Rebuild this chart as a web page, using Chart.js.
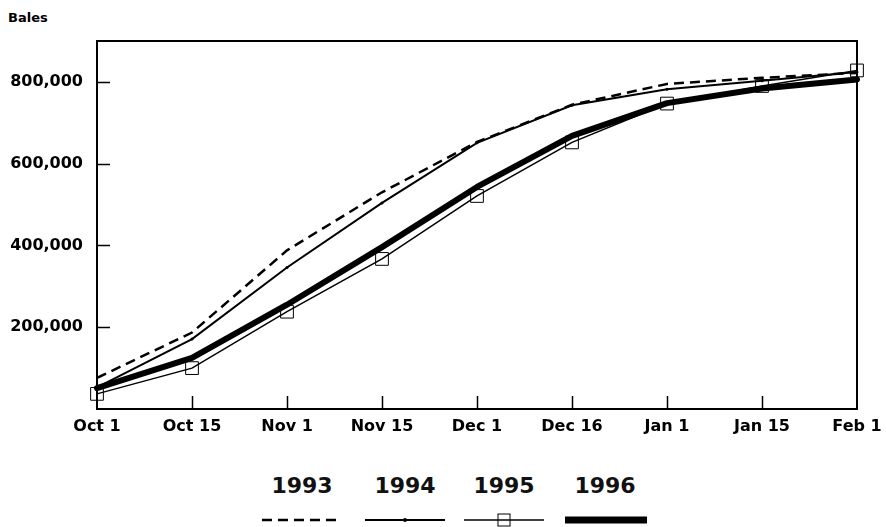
<!DOCTYPE html>
<html>
<head>
<meta charset="utf-8">
<script src="https://cdn.jsdelivr.net/npm/chart.js@4.4.1/dist/chart.umd.min.js"></script>
<style>
  html, body { margin: 0; padding: 0; background: #fff; }
  body { width: 886px; height: 527px; overflow: hidden; position: relative; font-family: "DejaVu Sans", sans-serif; }
  #unit { position: absolute; left: 8px; top: 10px; font-weight: bold; font-size: 13px; color: #000; }
  #wrap { position: absolute; left: 0; top: 0; width: 886px; height: 445px; }
  #legend { position: absolute; left: 0; top: 472px; width: 886px; }
  .item { position: absolute; top: 0; width: 90px; text-align: center; }
  .item span { display: block; font-weight: bold; font-size: 22px; line-height: 28px; color: #111; }
  .item svg { display: block; margin-top: 12px; }
</style>
</head>
<body>
<div id="unit">Bales</div>
<div id="wrap"><canvas id="chart"></canvas></div>
<div id="legend"></div>
<script>
// ---- data ----
const dates = ['Oct 1', 'Oct 15', 'Nov 1', 'Nov 15', 'Dec 1', 'Dec 16', 'Jan 1', 'Jan 15', 'Feb 1'];
const bales1993 = [76000, 187000, 388000, 530000, 653000, 744000, 795000, 810000, 822000];
const bales1994 = [53000, 171000, 346000, 504000, 651000, 743000, 782000, 803000, 824000];
const bales1995 = [37000, 100000, 238000, 367000, 521000, 652000, 747000, 790000, 828000];
const bales1996 = [51000, 125000, 255000, 396000, 543000, 668000, 748000, 784000, 806000];
const yTicks = [200000, 400000, 600000, 800000];
const years = ['1993', '1994', '1995', '1996'];

const tickFont = { family: 'DejaVu Sans', size: 16, weight: 'bold' };

// frame round the plot and short inward tick marks
const framePlugin = {
  id: 'frame',
  afterDatasetsDraw(chart) {
    const { ctx, chartArea: a, scales: { x, y } } = chart;
    ctx.save();
    ctx.strokeStyle = '#000';
    ctx.lineWidth = 2;
    ctx.strokeRect(a.left, a.top, a.right - a.left, a.bottom - a.top);
    ctx.lineWidth = 1.5;
    ctx.beginPath();
    yTicks.forEach(v => {
      const py = Math.round(y.getPixelForValue(v)) + 0.5;
      ctx.moveTo(a.left, py);
      ctx.lineTo(a.left + 13, py);
    });
    for (let i = 1; i < dates.length - 1; i++) {
      const px = Math.round(x.getPixelForValue(i)) + 0.5;
      ctx.moveTo(px, a.bottom);
      ctx.lineTo(px, a.bottom - 13);
    }
    ctx.stroke();
    ctx.restore();
  }
};

const datasets = [
  { label: '1996', data: bales1996, borderColor: '#000', borderWidth: 6, pointRadius: 0, borderJoinStyle: 'round', borderCapStyle: 'round' },
  { label: '1995', data: bales1995, borderColor: '#000', borderWidth: 1.5, pointStyle: 'rect', pointRadius: 9, pointBorderWidth: 1, pointBorderColor: '#000', pointBackgroundColor: 'rgba(0,0,0,0)' },
  { label: '1994', data: bales1994, borderColor: '#000', borderWidth: 2, pointRadius: 1.5, pointBackgroundColor: '#000', pointBorderWidth: 0 },
  { label: '1993', data: bales1993, borderColor: '#000', borderWidth: 2.5, borderDash: [10, 6], pointRadius: 0 }
];

new Chart(document.getElementById('chart'), {
  type: 'line',
  data: { labels: dates, datasets: datasets },
  options: {
    responsive: true,
    maintainAspectRatio: false,
    animation: false,
    layout: { padding: { top: 41, right: 29, left: 0, bottom: 0 } },
    plugins: { legend: { display: false }, tooltip: { enabled: false } },
    elements: { line: { tension: 0 } },
    scales: {
      x: {
        grid: { display: false, drawTicks: false },
        border: { display: false },
        ticks: { color: '#000', font: tickFont, padding: 8, maxRotation: 0, autoSkip: false },
        afterFit: s => { s.height = 36; s.paddingLeft = 0; s.paddingRight = 0; }
      },
      y: {
        min: 0,
        max: 900000,
        grid: { display: false, drawTicks: false },
        border: { display: false },
        afterBuildTicks: s => { s.ticks = yTicks.map(v => ({ value: v })); },
        ticks: {
          color: '#000',
          font: tickFont,
          padding: 14,
          callback: v => v.toLocaleString('en-US')
        },
        afterFit: s => { s.width = 97; s.paddingTop = 0; s.paddingBottom = 0; }
      }
    }
  },
  plugins: [framePlugin]
});

// legend: year above a sample of each line style
const legendStyles = {
  '1993': '<line x1="2" y1="8" x2="82" y2="8" stroke="#000" stroke-width="2.5" stroke-dasharray="10 6"/>',
  '1994': '<line x1="2" y1="8" x2="82" y2="8" stroke="#000" stroke-width="2"/><circle cx="42" cy="8" r="2" fill="#000"/>',
  '1995': '<line x1="2" y1="8" x2="82" y2="8" stroke="#000" stroke-width="1.5"/><rect x="36" y="2" width="12" height="12" fill="none" stroke="#000" stroke-width="1"/>',
  '1996': '<line x1="2" y1="8" x2="84" y2="8" stroke="#000" stroke-width="7"/>'
};
const centers = [302, 405, 504, 605];
const legend = document.getElementById('legend');
years.forEach((yr, i) => {
  const d = document.createElement('div');
  d.className = 'item';
  d.style.left = (centers[i] - 45) + 'px';
  d.innerHTML = `<span>${yr}</span><svg width="90" height="16" viewBox="-3 0 90 16">${legendStyles[yr]}</svg>`;
  legend.appendChild(d);
});
</script>
</body>
</html>
